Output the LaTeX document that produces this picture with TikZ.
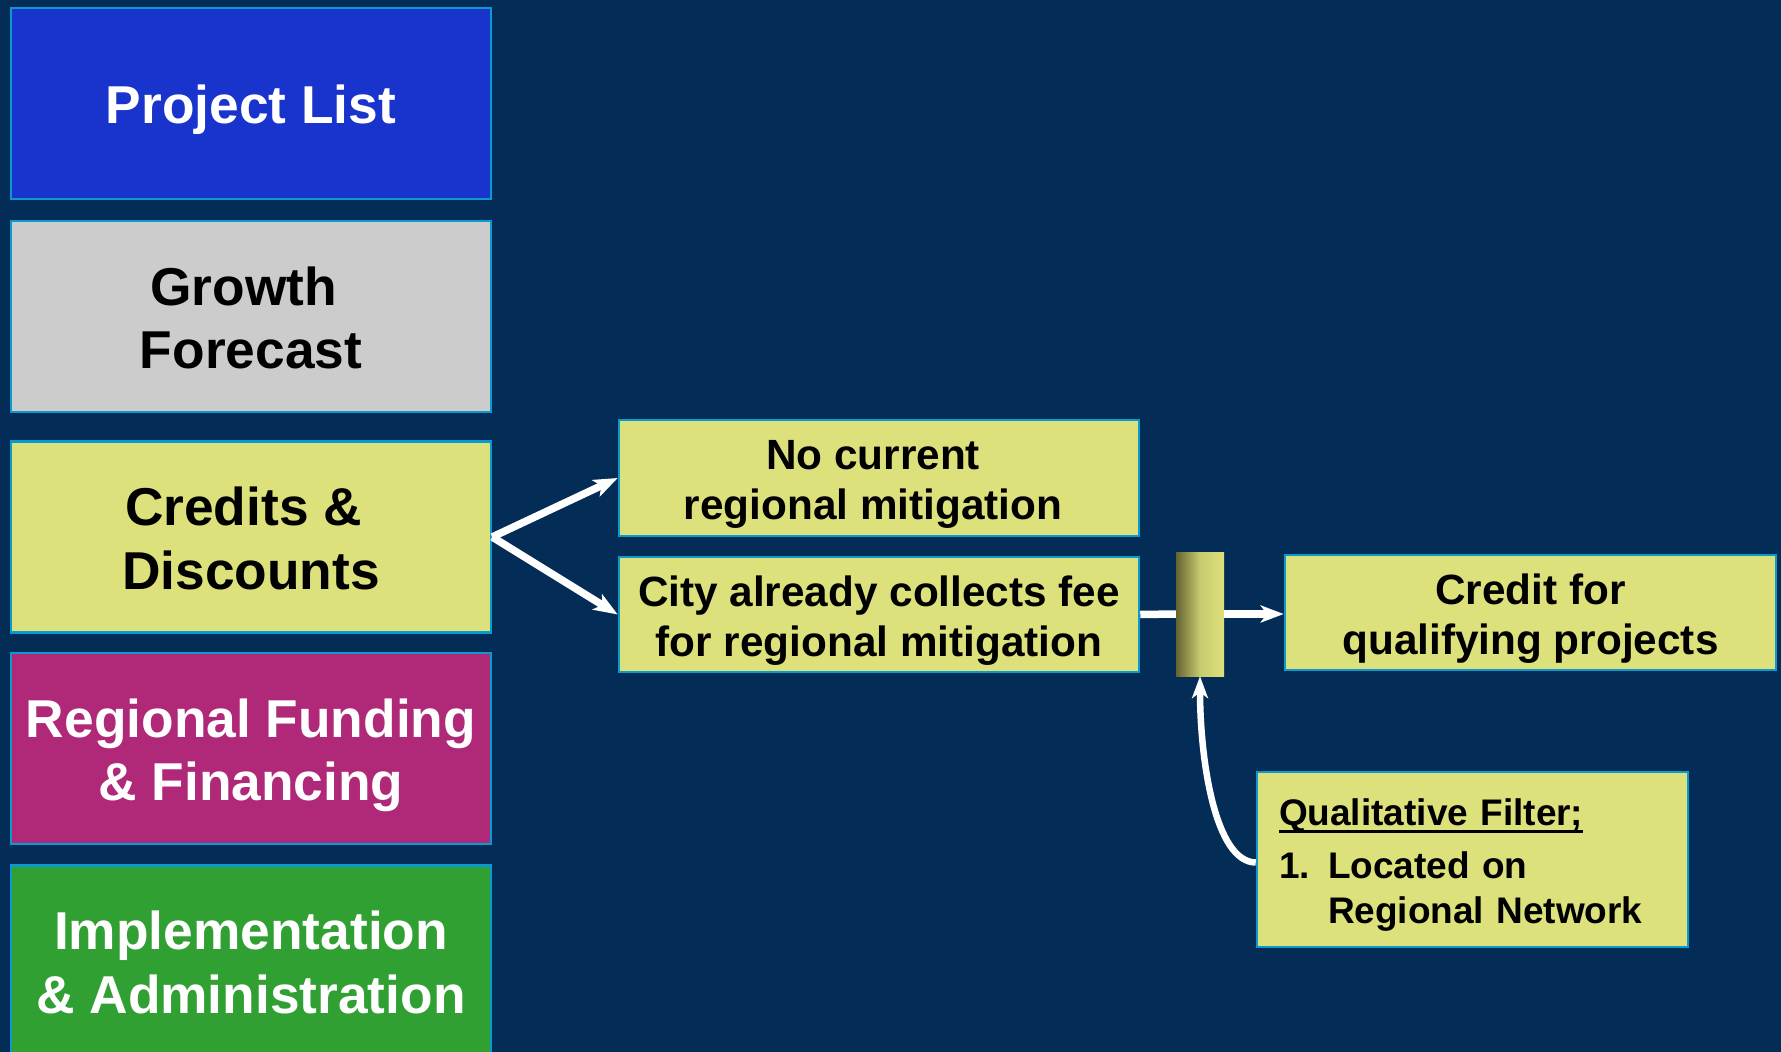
\documentclass[tikz,border=0pt]{standalone}
\usepackage{fontspec}
\setmainfont{Liberation Sans}
\usetikzlibrary{arrows.meta}
\definecolor{bgnavy}{HTML}{032D56}
\definecolor{bcol}{HTML}{0A9ACF}
\definecolor{pblue}{HTML}{1934CC}
\definecolor{pgrey}{HTML}{CCCCCC}
\definecolor{pyel}{HTML}{DDE17B}
\definecolor{pmag}{HTML}{B02878}
\definecolor{pgreen}{HTML}{30A032}
\definecolor{olivedk}{HTML}{646430}
\newcommand\tst{\rule{0pt}{\dimexpr0.905em+4pt\relax}}
\newcommand\bst{\rule[-0.212em]{0pt}{0.212em}}
\newcommand\tsp{\kern0.278em}
\newcommand\myul[1]{\leavevmode\setbox0\hbox{#1}\rlap{\rule[-8pt]{\wd0}{3.5pt}}\box0}
\begin{document}
\begin{tikzpicture}[x=1pt,y=-1pt,
  bigbox/.style={draw=bcol, line width=2.5pt, minimum width=480pt, minimum height=191pt,
    inner sep=0pt, align=center, font=\fontsize{53.3}{63.6}\selectfont\bfseries},
  smallbox/.style={draw=bcol, line width=2.5pt, fill=pyel, inner sep=0pt, align=center,
    font=\fontsize{42.3}{50}\selectfont\bfseries},
  wline/.style={draw=white, line width=7.5pt},
  wtip/.style={-{Stealth[length=24pt,width=18pt,inset=6pt]}}
]
\fill[bgnavy] (0,0) rectangle (1781,1052);
\useasboundingbox (0,0) rectangle (1781,1052);
\clip (0,0) rectangle (1781,1052);

% left column
\node[bigbox, fill=pblue, text=white] (plist) at (251,103.5) {\tst Project List\bst};
\node[bigbox, fill=pgrey, text=black] (growth) at (251,316.5) {\tst Growth\tsp\\Forecast\bst};
\node[bigbox, fill=pyel, text=black] (cred) at (251,537) {\tst Credits \&\tsp\\Discounts\bst};
\node[bigbox, fill=pmag, text=white] (fund) at (251,748.5) {\tst Regional Funding\\\& Financing\bst};
\node[bigbox, fill=pgreen, text=white] (impl) at (251,961) {\tst Implementation\\\& Administration\bst};

% middle boxes
\node[smallbox, minimum width=520pt, minimum height=116pt] (nc) at (879,478)
  {\tst No current\tsp\\regional mitigation\tsp\bst};
\node[smallbox, minimum width=520pt, minimum height=115pt] (city) at (879,614.5)
  {\tst City already collects fee\\for regional mitigation\bst};

% filter bar
\node[minimum width=48pt, minimum height=124pt, inner sep=0pt,
  left color=olivedk, right color=pyel, middle color=pyel!82!olivedk] (bar) at (1200,614) {};

% right boxes
\node[smallbox, minimum width=491pt, minimum height=115pt] (credit) at (1530.5,612.5)
  {\tst Credit for\\qualifying projects\bst};
\node[draw=bcol, line width=2.5pt, fill=pyel, inner xsep=22pt, inner ysep=0pt,
  text width=387pt, align=left, minimum height=175pt,
  font=\fontsize{37}{45}\selectfont\bfseries] (qual) at (1472.5,859.5)
  {\tst\myul{Qualitative Filter;}\\[8pt]
   \makebox[49pt][l]{1.}Located on\\
   \hspace*{49pt}Regional Network\bst};

% connectors
\draw[wline, wtip] (cred.east) -- (nc.west);
\draw[wline, wtip] (cred.east) -- (city.west);
\draw[wline] (city.east) -- (bar.west);
\draw[wline, -{Stealth[length=23pt,width=17pt,inset=6pt]}] (bar.east) -- (bar.east -| credit.west);
\draw[wline, line width=6.5pt, -{Stealth[length=22pt,width=16pt,inset=6pt]}] ([yshift=-3pt]qual.west) .. controls (1215,862) and (1200,760) .. (bar.south);
\end{tikzpicture}
\end{document}
